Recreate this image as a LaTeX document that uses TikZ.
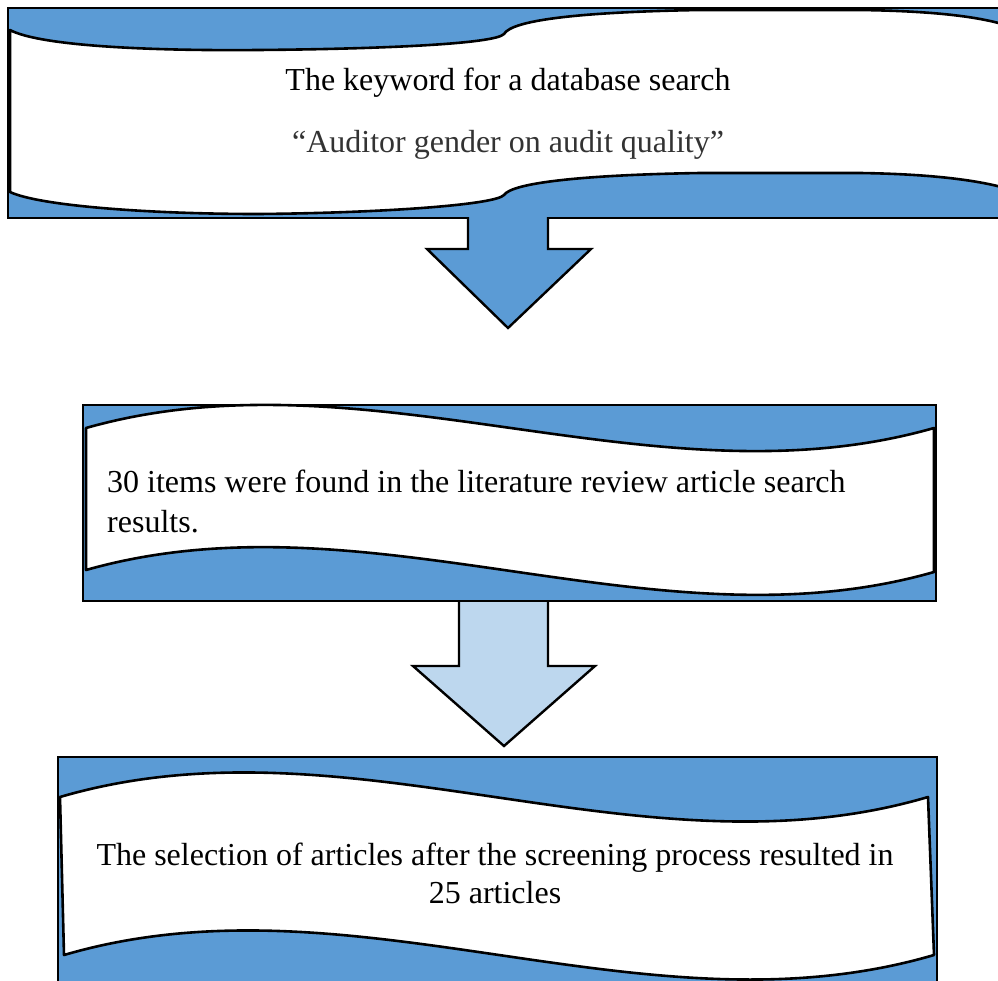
\documentclass[tikz,border=0pt]{standalone}
\usepackage{fontspec}
\setmainfont{Liberation Serif}
\definecolor{boxblue}{HTML}{5B9BD5}
\definecolor{lightblue}{HTML}{BDD7EE}
\definecolor{textgray}{HTML}{333333}
\begin{document}
\begin{tikzpicture}[x=1pt,y=-1pt,
  bluebox/.style={fill=boxblue,draw=black,line width=2.4pt},
  scroll/.style={fill=white,draw=black,line width=2.6pt,line join=round},
  blockarrow/.style={draw=black,line width=2.4pt,line join=miter},
  txt/.style={font=\fontsize{32}{36}\selectfont,inner sep=0pt,anchor=base}]
\useasboundingbox (0,0) rectangle (998,980);
\clip (0,0) rectangle (998,980);
% ---------- box 1 ----------
\path[bluebox] (8,8) rectangle (1012,218);
\path[scroll] (10,30) .. controls (40,46) and (150,51) .. (258,50)
  .. controls (380,49) and (495,44) .. (504,34)
  .. controls (512,20) and (580,12) .. (700,10)
  -- (860,10) .. controls (930,11) and (980,16) .. (1012,27)
  -- (1012,190)
  .. controls (980,180) and (930,174) .. (860,173)
  -- (700,173) .. controls (580,175) and (512,183) .. (504,195)
  .. controls (495,205) and (380,213) .. (258,214)
  .. controls (150,214) and (40,206) .. (10,192) -- cycle;
\node[txt] (t1a) at (508,90) {The keyword for a database search};
\node[txt,text=textgray] (t1b) at (508,152) {“Auditor gender on audit quality”};
% ---------- arrow 1 ----------
\fill[boxblue] (468,212) -- (468,249) -- (427,249) -- (508,328) -- (591,249) -- (548,249) -- (548,212) -- cycle;
\draw[blockarrow] (468,217) -- (468,249) -- (427,249) -- (508,328) -- (591,249) -- (548,249) -- (548,217);
% ---------- box 2 ----------
\path[bluebox] (83,405) rectangle (936,601);
\path[scroll] (86,428) .. controls (368,348) and (654,508) .. (934,428)
  -- (934,572) .. controls (654,652) and (368,490) .. (86,570) -- cycle;
\node[txt,anchor=base west] (t2a) at (107,492) {30 items were found in the literature review article search};
\node[txt,anchor=base west] (t2b) at (107,532) {results.};
% ---------- arrow 2 ----------
\path[blockarrow,fill=lightblue] (459,601) -- (459,666) -- (413,666) -- (504,746) -- (595,666) -- (548,666) -- (548,601);
\draw[line width=2.4pt] (83,601) -- (936,601);
% ---------- box 3 ----------
\path[bluebox] (58,757) rectangle (937,1000);
\path[scroll] (60,797) .. controls (350,712) and (640,882) .. (928,797)
  -- (934,955) .. controls (644,1040) and (354,870) .. (64,955) -- cycle;
\node[txt] (t3a) at (495,865) {The selection of articles after the screening process resulted in};
\node[txt] (t3b) at (495,903) {25 articles};
\end{tikzpicture}
\end{document}
